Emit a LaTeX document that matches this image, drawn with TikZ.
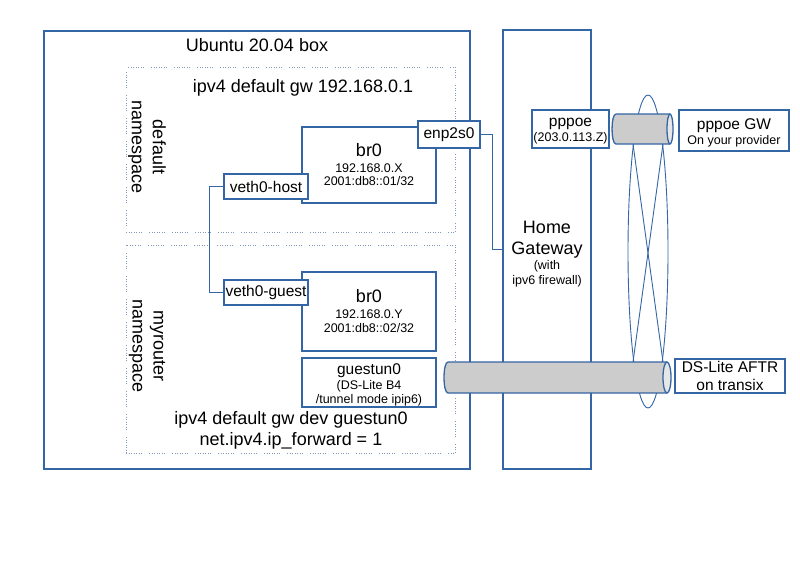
\documentclass[tikz,border=0pt]{standalone}
\usepackage{fontspec}
\setmainfont{Liberation Sans}
\definecolor{lineblue}{HTML}{3465A4}
\definecolor{nsblue}{HTML}{7F97B8}
\definecolor{tubegray}{HTML}{CCCCCC}
\definecolor{tubeend}{HTML}{E6E6E6}
\newcommand{\ftitle}{\fontsize{18}{21}\selectfont}
\newcommand{\flabel}{\fontsize{15.5}{18}\selectfont}
\newcommand{\fnote}{\fontsize{12.5}{15}\selectfont}
\tikzset{
  ifbox/.style={draw=lineblue, line width=1.3pt, fill=white, inner sep=0pt, align=center},
  nsbox/.style={draw=nsblue, line width=0.8pt, inner sep=0pt,
    dash pattern=on 1pt off 1.5pt on 1pt off 1.5pt on 1pt off 1.5pt on 1pt off 1.5pt on 1pt off 1.5pt on 1pt off 1.5pt on 1pt off 7pt},
  wire/.style={draw=lineblue, line width=1.3pt},
  tunnel/.style={draw=lineblue, line width=0.9pt},
}
\begin{document}
\begin{tikzpicture}[x=1pt, y=-1pt]
  \useasboundingbox (0,0) rectangle (800,566);
  % the host and its namespaces
  \node[ifbox, minimum width=426, minimum height=438] (ubuntu) at (257,250) {};
  \node[font=\ftitle] (ubuntulbl) at (257,45) {Ubuntu 20.04 box};
  \node[nsbox, minimum width=329, minimum height=165] (defaultns) at (290.5,149.5) {};
  \node[nsbox, minimum width=329, minimum height=208] (routerns) at (290.5,349) {};
  \node[font=\ftitle] (defaultgw) at (303,88) {ipv4 default gw 192.168.0.1};
  \node[font=\ftitle, align=center, rotate=-90] (defaultlbl) at (147,147) {default\\namespace};
  \node[font=\ftitle, align=center, rotate=-90] (routerlbl) at (147,346) {myrouter\\namespace};
  \node[font=\ftitle, align=center] (routergw) at (291,430) {ipv4 default gw dev guestun0\\net.ipv4.ip\_forward = 1};
  % interfaces
  \node[ifbox, font=\fnote, minimum width=134, minimum height=76] (brhost) at (369,165) {{\ftitle br0}\\[0.5pt]192.168.0.X\\[-1.5pt]2001:db8::01/32};
  \node[ifbox, font=\fnote, minimum width=134, minimum height=79] (brguest) at (369,311.5) {{\ftitle br0}\\[1pt]192.168.0.Y\\[-1pt]2001:db8::02/32};
  \node[ifbox, font=\flabel, minimum width=84, minimum height=25] (vethhost) at (266,186.5) {veth0-host};
  \node[ifbox, font=\flabel, minimum width=84, minimum height=25] (vethguest) at (266,292.5) {veth0-guest};
  \node[ifbox, font=\flabel, minimum width=62, minimum height=27] (enp) at (449,134.5) {enp2s0};
  \node[ifbox, minimum width=134, minimum height=49] (guestun) at (369,382.5) {};
  \node[font=\fnote, align=center] (guestunlbl) at (369,385) {{\flabel guestun0}\\(DS-Lite B4\\[-1.5pt]/tunnel mode ipip6)};
  % home gateway and the provider side
  \node[ifbox, minimum width=88, minimum height=439] (gw) at (547,249.5) {};
  \node[font=\fnote, align=center] (gwlbl) at (547,254) {{\ftitle Home}\\[6pt]{\ftitle Gateway}\\(with\\ipv6 firewall)};
  \node[ifbox, minimum width=77, minimum height=38] (pppoe) at (570.5,129) {};
  \node[font=\fnote, align=center] (pppoelbl) at (570.5,131) {{\flabel pppoe}\\(203.0.113.Z)};
  \node[ifbox, minimum width=110, minimum height=41] (pppoegw) at (734,130.5) {};
  \node[font=\fnote, align=center] (pppoegwlbl) at (734,132.5) {{\flabel pppoe GW}\\On your provider};
  \node[ifbox, font=\flabel, minimum width=110, minimum height=34] (aftr) at (730,376) {DS-Lite AFTR\\on transix};
  \draw[wire] (vethhost.west) -- ++(-14,0) |- (vethguest.west);
  \draw[wire] (enp.east) -- ++(12,0) |- (gw.west);
  % tunnels
  \coordinate (pppoeL) at (633,144);
  \coordinate (pppoeR) at (663,144);
  \coordinate (aftrL) at (633,362);
  \coordinate (aftrR) at (663,362);
  \draw[tunnel] (648,251.5) ellipse[x radius=20, y radius=156.5];
  \draw[tunnel] (pppoeL) -- (aftrR);
  \draw[tunnel] (pppoeR) -- (aftrL);
  \path[fill=tubegray, draw=lineblue, line width=1.3pt] (670,114) -- (616,114) .. controls (610.7,114) and (610.7,144) .. (616,144) -- (670,144);
  \filldraw[fill=tubeend, draw=lineblue, line width=1.3pt] (670,129) ellipse[x radius=3, y radius=15];
  \path[fill=tubegray, draw=lineblue, line width=1.3pt] (667,362) -- (448,362) .. controls (442.7,362) and (442.7,393) .. (448,393) -- (667,393);
  \filldraw[fill=tubeend, draw=lineblue, line width=1.3pt] (667,377.5) ellipse[x radius=4, y radius=15.5];
\end{tikzpicture}
\end{document}
